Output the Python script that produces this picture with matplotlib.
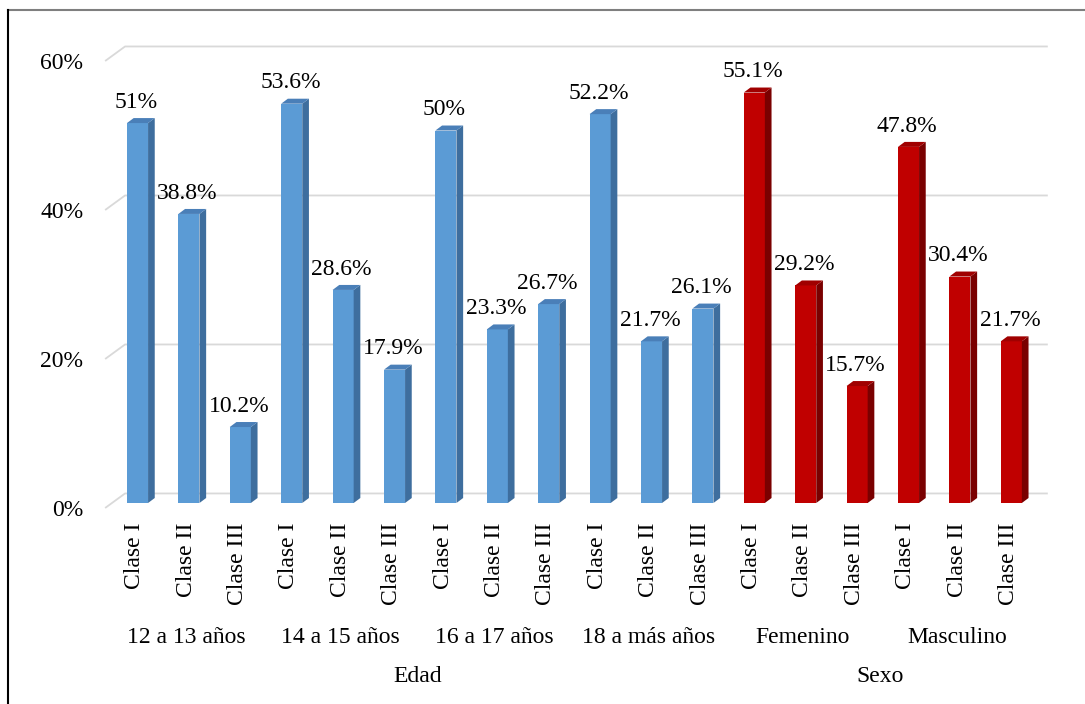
import matplotlib.pyplot as plt
from matplotlib.patches import Rectangle, Polygon
from matplotlib.lines import Line2D
import numpy as np

# 1. Data
groups = ["12 a 13 años", "14 a 15 años", "16 a 17 años", "18 a más años", "Femenino", "Masculino"]
classes = ["Clase I", "Clase II", "Clase III"]
clase_1 = [51, 53.6, 50, 52.2, 55.1, 47.8]
clase_2 = [38.8, 28.6, 23.3, 21.7, 29.2, 30.4]
clase_3 = [10.2, 17.9, 26.7, 26.1, 15.7, 21.7]
sections = ["Edad", "Sexo"]
section_sizes = [4, 2]
y_ticks = [0, 20, 40, 60]

# 2. Style
plt.rcParams['font.family'] = ['Liberation Serif', 'DejaVu Serif']
FS = 17
BLUE = ("#5B9BD5", "#3E6E9E", "#4A7FB8")   # front, side, top
RED = ("#C00000", "#7A0000", "#A00000")
GRID = "#D9D9D9"

BAR_W = 0.41      # front face width (category units)
DEP_X = 0.13      # bar depth, x
DEP_Y = 0.67      # bar depth, y (%)
BACK_X, BACK_Y = 0.25, 1.28    # back wall relative to bar plane
FRONT_X, FRONT_Y = -0.63, -0.67  # front floor corner / tick label plane

fig = plt.figure(figsize=(10.85, 7.04), dpi=100)
ax = fig.add_axes([100 / 1085, 1 - 510 / 704, 955 / 1085, 470 / 704])
ax.set_xlim(-0.73, 17.85)
ax.set_ylim(-0.94, 62.15)
for s in ax.spines.values():
    s.set_visible(False)

# 3. Gridlines (back wall with floor diagonal)
x_back_l = -0.243
x_back_r = 17.71
for g in y_ticks:
    ax.plot([FRONT_X, x_back_l, x_back_r], [g + FRONT_Y, g + BACK_Y, g + BACK_Y],
            color=GRID, lw=1.3, zorder=1, solid_capstyle='butt')

# 4. Bars
values = []
for i in range(len(groups)):
    values += [clase_1[i], clase_2[i], clase_3[i]]
xs = np.arange(len(values))

for i, (x, v) in enumerate(zip(xs, values)):
    front, side, top = RED if i >= 12 else BLUE
    l, r = x - BAR_W / 2, x + BAR_W / 2
    ax.add_patch(Rectangle((l, 0), BAR_W, v, facecolor=front, edgecolor='none', zorder=3))
    ax.add_patch(Polygon([(r, 0), (r + DEP_X, DEP_Y), (r + DEP_X, v + DEP_Y), (r, v)],
                         facecolor=side, edgecolor='none', zorder=3))
    ax.add_patch(Polygon([(l, v), (l + DEP_X, v + DEP_Y), (r + DEP_X, v + DEP_Y), (r, v)],
                         facecolor=top, edgecolor='none', zorder=3))
    ax.annotate(f"{v:g}%", (x, v), xytext=(-1, 11), textcoords='offset points',
                ha='center', va='baseline', fontsize=FS, zorder=4)
    ax.annotate(classes[i % 3], (x, 0), xytext=(-2, -13.7), textcoords='offset points',
                ha='center', va='top', rotation=90, fontsize=FS)

# 5. Group and section labels
for j, name in enumerate(groups):
    ax.annotate(name, (3 * j + 1, 0), xytext=(-2, -97), textcoords='offset points',
                ha='center', va='center', fontsize=FS)
start = 0
for name, n in zip(sections, section_sizes):
    mid = (3 * start + 3 * (start + n) - 1) / 2
    ax.annotate(name, (mid, 0), xytext=(-2, -125), textcoords='offset points',
                ha='center', va='center', fontsize=FS)
    start += n

# 6. Y axis
ax.set_xticks([])
ax.set_yticks(np.array(y_ticks) + FRONT_Y)
ax.set_yticklabels([f"{t}%" for t in y_ticks], fontsize=FS)
ax.tick_params(axis='y', length=0, pad=12)

# 7. Outer frame
fig.add_artist(Line2D([8 / 1085, 1], [1 - 10 / 704, 1 - 10 / 704],
                      transform=fig.transFigure, color="#7F7F7F", lw=1.5))
fig.add_artist(Line2D([8 / 1085, 8 / 1085], [0, 1 - 10 / 704],
                      transform=fig.transFigure, color="black", lw=1.5))

fig.savefig("out.png", dpi=100)
